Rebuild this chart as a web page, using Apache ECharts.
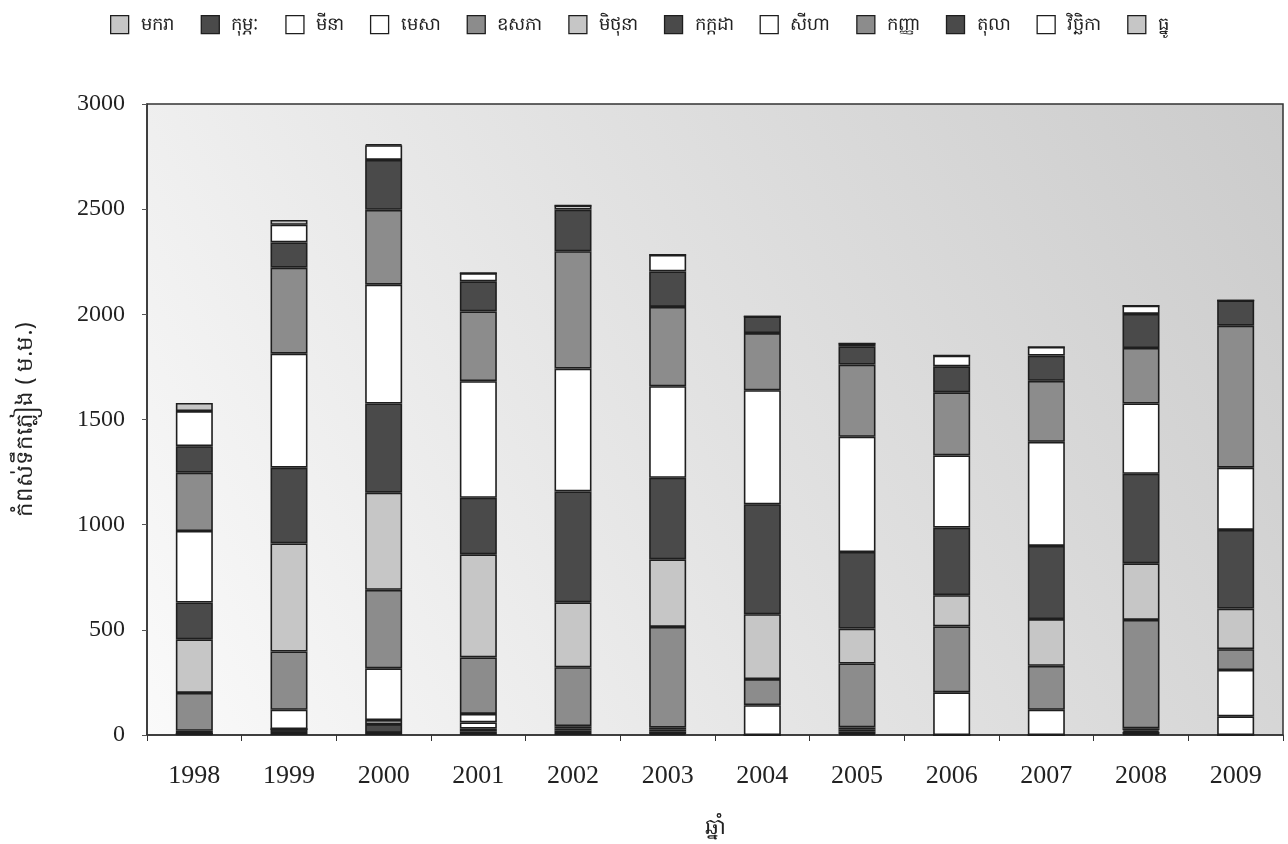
<!DOCTYPE html>
<html>
<head>
<meta charset="utf-8">
<script src="https://cdn.jsdelivr.net/npm/echarts@6/dist/echarts.min.js"></script>
<style>
  html, body { margin: 0; padding: 0; background: #ffffff; }
  #chart { width: 1288px; height: 844px; }
</style>
</head>
<body>
<div id="chart"></div>
<script>
// Monthly rainfall (mm), one array per month, stacked per year
const years = ['1998','1999','2000','2001','2002','2003','2004','2005','2006','2007','2008','2009'];
const monthNames = ['មករា','កុម្ភៈ','មីនា','មេសា','ឧសភា','មិថុនា','កក្កដា','សីហា','កញ្ញា','តុលា','វិច្ឆិកា','ធ្នូ'];

const jan = [5, 10, 10, 15, 10, 5, 0, 5, 0, 0, 5, 0];
const feb = [0, 18, 42, 15, 10, 10, 0, 10, 0, 0, 10, 0];
const mar = [0, 0, 19, 30, 10, 10, 0, 10, 0, 0, 7, 89];
const apr = [15, 92, 246, 40, 12, 10, 142, 11, 203, 120, 10, 220];
const may = [180, 277, 373, 269, 280, 479, 124, 304, 313, 209, 515, 99];
const jun = [255, 514, 462, 490, 309, 321, 308, 166, 149, 222, 269, 193];
const jul = [175, 360, 424, 269, 527, 388, 523, 364, 321, 348, 426, 374];
const aug = [340, 542, 565, 554, 584, 435, 542, 548, 343, 495, 334, 296];
const sep = [277, 409, 356, 332, 558, 377, 272, 343, 300, 290, 264, 675];
const oct = [126, 120, 237, 143, 198, 169, 79, 87, 124, 120, 162, 120];
const nov = [167, 84, 70, 39, 19, 79, 0, 13, 51, 41, 39, 0];
const dec = [39, 23, 5, 0, 0, 0, 0, 0, 0, 0, 0, 0];

const yTicks = [0, 500, 1000, 1500, 2000, 2500, 3000];

const monthValues = [jan, feb, mar, apr, may, jun, jul, aug, sep, oct, nov, dec];

// grey tones standing in for the printed hatch fills
const LIGHT = '#c6c6c6', MEDIUM = '#8c8c8c', DARK = '#4a4a4a', WHITE = '#ffffff';
const fills = [LIGHT, DARK, WHITE, WHITE, MEDIUM, LIGHT, DARK, WHITE, MEDIUM, DARK, WHITE, LIGHT];

const series = monthNames.map((name, i) => ({
  name: name,
  type: 'bar',
  stack: 'rain',
  barWidth: 37,
  data: monthValues[i],
  itemStyle: {
    color: fills[i],
    borderColor: '#1e1e1e',
    borderWidth: 1.6
  },
  emphasis: { disabled: true }
}));

const chart = echarts.init(document.getElementById('chart'), null, { renderer: 'canvas' });

const khmerFont = '"Noto Sans", "DejaVu Sans", sans-serif';

chart.setOption({
  animation: false,
  backgroundColor: '#ffffff',
  textStyle: { fontFamily: '"Liberation Serif", "DejaVu Serif", serif', color: '#222' },
  legend: {
    left: 105,
    top: 10,
    width: 1180,
    itemWidth: 18,
    itemHeight: 18,
    itemGap: 26,
    icon: 'rect',
    itemStyle: { borderColor: '#1e1e1e', borderWidth: 1.3 },
    textStyle: { fontSize: 18, color: '#222', fontFamily: khmerFont, padding: [0, 0, 0, 7] },
    data: monthNames
  },
  grid: {
    left: 147,
    right: 5,
    top: 104,
    bottom: 108,
    show: true,
    borderColor: '#333',
    borderWidth: 1.5,
    backgroundColor: {
      type: 'linear', x: 0, y: 1, x2: 1, y2: 0,
      colorStops: [
        { offset: 0, color: '#fafafa' },
        { offset: 0.5, color: '#e2e2e2' },
        { offset: 1, color: '#cbcbcb' }
      ]
    }
  },
  xAxis: {
    type: 'category',
    data: years,
    name: 'ឆ្នាំ',
    nameLocation: 'middle',
    nameGap: 82,
    nameTextStyle: { fontSize: 22, color: '#222', fontFamily: khmerFont },
    axisLine: { lineStyle: { color: '#333', width: 1.5 } },
    axisTick: { show: true, alignWithLabel: false, length: 6, lineStyle: { color: '#333' } },
    axisLabel: { fontSize: 26, color: '#222', margin: 28 }
  },
  yAxis: {
    type: 'value',
    min: yTicks[0],
    max: yTicks[yTicks.length - 1],
    interval: 500,
    name: 'កំពស់ទឹកភ្លៀង ( ម.ម.)',
    nameLocation: 'middle',
    nameGap: 110,
    nameRotate: 90,
    nameTextStyle: { fontSize: 23, color: '#222', fontFamily: khmerFont },
    axisLine: { show: true, lineStyle: { color: '#333', width: 1.5 } },
    axisTick: { show: true, length: 5, lineStyle: { color: '#555' } },
    splitLine: { show: false },
    axisLabel: { fontSize: 24, color: '#222', margin: 22, formatter: v => String(v) }
  },
  series: series
});
</script>
</body>
</html>
